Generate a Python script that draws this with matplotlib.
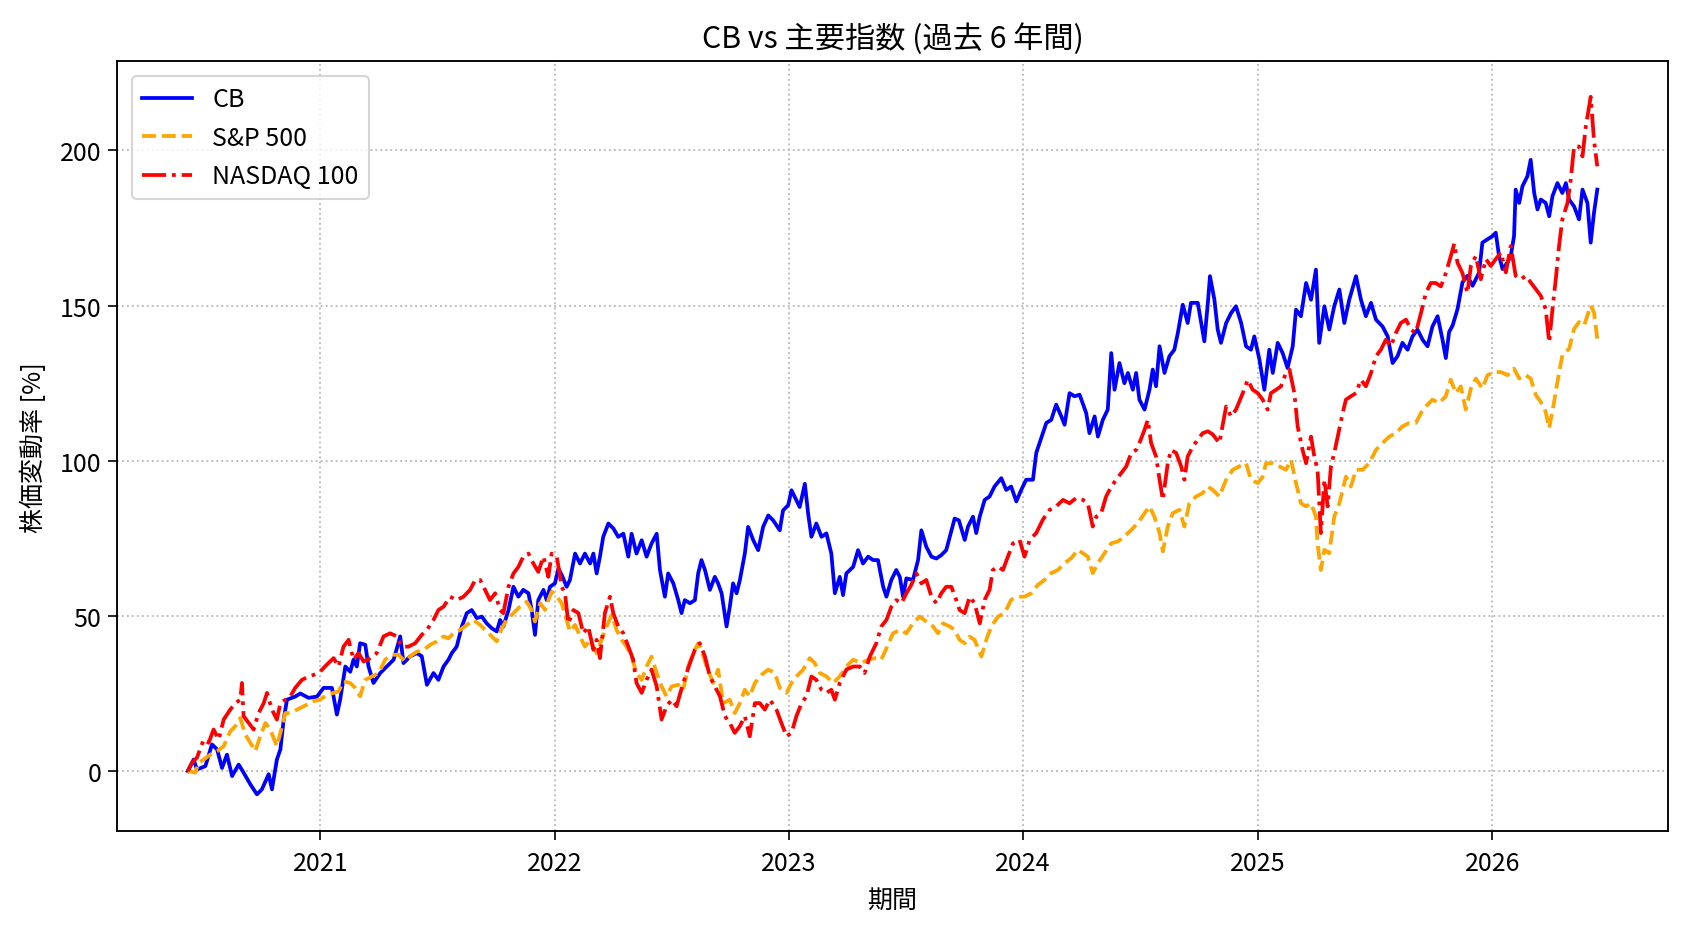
import matplotlib
matplotlib.use('Agg')
import matplotlib.pyplot as plt
import numpy as np
import pandas as pd

plt.rcParams['font.family'] = ['Noto Sans CJK JP', 'DejaVu Sans']
plt.rcParams['font.size'] = 12
plt.rcParams['axes.linewidth'] = 0.9
plt.rcParams['xtick.major.size'] = 4.2
plt.rcParams['ytick.major.size'] = 4.2
plt.rcParams['xtick.major.pad'] = 5

# values; time axis as decimal years
cb_t = [2020.435, 2020.460, 2020.474, 2020.510, 2020.538, 2020.560, 2020.581, 2020.602, 2020.624, 2020.652,
        2020.673, 2020.702, 2020.730, 2020.751, 2020.780, 2020.794, 2020.815, 2020.830, 2020.844, 2020.858,
        2020.893, 2020.915, 2020.950, 2020.986, 2021.014, 2021.050, 2021.071, 2021.085, 2021.107, 2021.128,
        2021.142, 2021.156, 2021.170, 2021.192, 2021.206, 2021.227, 2021.256, 2021.284, 2021.313, 2021.341,
        2021.355, 2021.384, 2021.412, 2021.433, 2021.455, 2021.483, 2021.504, 2021.526, 2021.547, 2021.561,
        2021.582, 2021.604, 2021.625, 2021.646, 2021.668, 2021.689, 2021.710, 2021.732, 2021.753, 2021.767,
        2021.781, 2021.803, 2021.824, 2021.845, 2021.866, 2021.888, 2021.902, 2021.916, 2021.930, 2021.952,
        2021.966, 2021.980, 2022.001, 2022.016, 2022.030, 2022.051, 2022.065, 2022.087, 2022.108, 2022.129,
        2022.151, 2022.165, 2022.179, 2022.193, 2022.207, 2022.229, 2022.250, 2022.271, 2022.293, 2022.314,
        2022.328, 2022.349, 2022.371, 2022.392, 2022.413, 2022.435, 2022.449, 2022.470, 2022.484, 2022.506,
        2022.527, 2022.541, 2022.555, 2022.577, 2022.598, 2022.612, 2022.626, 2022.641, 2022.662, 2022.683,
        2022.697, 2022.712, 2022.733, 2022.747, 2022.761, 2022.776, 2022.790, 2022.811, 2022.825, 2022.847,
        2022.868, 2022.889, 2022.911, 2022.932, 2022.960, 2022.974, 2022.996, 2023.010, 2023.031, 2023.045,
        2023.067, 2023.081, 2023.095, 2023.116, 2023.138, 2023.159, 2023.180, 2023.195, 2023.216, 2023.230,
        2023.244, 2023.273, 2023.294, 2023.315, 2023.337, 2023.358, 2023.379, 2023.401, 2023.415, 2023.436,
        2023.457, 2023.472, 2023.486, 2023.500, 2023.528, 2023.550, 2023.564, 2023.585, 2023.607, 2023.628,
        2023.649, 2023.670, 2023.685, 2023.706, 2023.724, 2023.749, 2023.763, 2023.784, 2023.798, 2023.813,
        2023.834, 2023.855, 2023.876, 2023.905, 2023.926, 2023.947, 2023.969, 2023.990, 2024.011, 2024.040,
        2024.054, 2024.068, 2024.097, 2024.118, 2024.139, 2024.161, 2024.175, 2024.196, 2024.217, 2024.239,
        2024.267, 2024.281, 2024.303, 2024.317, 2024.338, 2024.359, 2024.374, 2024.388, 2024.409, 2024.430,
        2024.445, 2024.466, 2024.480, 2024.494, 2024.516, 2024.537, 2024.551, 2024.565, 2024.580, 2024.601,
        2024.622, 2024.643, 2024.658, 2024.679, 2024.700, 2024.714, 2024.743, 2024.771, 2024.786, 2024.795,
        2024.814, 2024.828, 2024.842, 2024.864, 2024.885, 2024.906, 2024.928, 2024.949, 2024.970, 2024.984,
        2025.006, 2025.027, 2025.048, 2025.063, 2025.084, 2025.105, 2025.126, 2025.148, 2025.162, 2025.183,
        2025.205, 2025.226, 2025.247, 2025.261, 2025.283, 2025.304, 2025.325, 2025.347, 2025.368, 2025.389,
        2025.418, 2025.439, 2025.460, 2025.482, 2025.503, 2025.531, 2025.553, 2025.574, 2025.595, 2025.616,
        2025.638, 2025.659, 2025.680, 2025.702, 2025.723, 2025.744, 2025.766, 2025.787, 2025.801, 2025.815,
        2025.830, 2025.851, 2025.872, 2025.893, 2025.915, 2025.929, 2025.943, 2025.957, 2025.979, 2026.000,
        2026.014, 2026.028, 2026.043, 2026.064, 2026.078, 2026.092, 2026.099, 2026.114, 2026.128, 2026.149,
        2026.163, 2026.178, 2026.192, 2026.206, 2026.227, 2026.242, 2026.256, 2026.277, 2026.298, 2026.313,
        2026.327, 2026.348, 2026.369, 2026.384, 2026.405, 2026.419, 2026.433, 2026.447]
cb_v = [0, 3.7, 0.5, 1.6, 8.6, 7, 1, 5.3, -1.6, 2.1,
        -0.5, -4.3, -7.5, -5.9, -1, -5.9, 3.7, 7, 16.6, 23,
        24, 25, 23.6, 24, 26.8, 26.8, 18.2, 23, 33.7, 32,
        35.9, 33.7, 41.2, 40.7, 33.7, 28.4, 31.6, 33.7, 35.9, 43.4,
        34.8, 37, 38, 37, 27.8, 31.6, 29.4, 33.7, 35.9, 38,
        40.1, 46.6, 50.9, 51.9, 49.3, 49.8, 47.6, 46, 45, 48.7,
        46.6, 51.9, 59.4, 56.2, 58.4, 57.3, 51.9, 43.9, 55.1, 58.4,
        55.1, 59.4, 60.5, 65.3, 63.2, 59.4, 61.6, 70.1, 66.9, 70.1,
        66.9, 70.1, 63.7, 69.1, 75.5, 79.8, 78.2, 75.5, 76.5, 69.1,
        76.5, 70.1, 74.4, 69.1, 73.3, 76.5, 64.8, 56.2, 63.7, 60.5,
        55.1, 50.9, 55.1, 54.1, 55.1, 63.7, 68, 64.8, 58.4, 62.6,
        60.5, 57.3, 46.6, 53, 60.5, 57.3, 61.6, 70.1, 78.7, 74.4,
        71.2, 78.7, 82.4, 80.8, 77.6, 84, 85.7, 90.5, 87.3, 85.1,
        92.6, 83, 75.5, 79.8, 75.5, 76.6, 70.1, 57.3, 62.6, 56.7,
        63.7, 65.8, 71.2, 66.9, 69.1, 68, 68, 59.4, 56.2, 61.6,
        64.8, 62.6, 56.2, 62.1, 61.6, 68, 77.6, 72.3, 69.1, 68.5,
        69.6, 71.2, 75.5, 81.4, 80.8, 74.5, 78.8, 82, 76.7, 82,
        87.4, 88.5, 91.7, 94.4, 90.6, 91.7, 86.9, 90.6, 93.9, 93.9,
        102.5, 105.7, 112.2, 113.2, 118.1, 114.3, 111.6, 121.8, 120.8, 121.3,
        115.4, 108.9, 114.3, 107.8, 113.2, 116.5, 134.7, 122.9, 131.5, 125,
        128.3, 122.9, 128.3, 119.7, 116.5, 122.9, 129.4, 124, 136.9, 128.3,
        133.7, 135.8, 141.2, 150.3, 144.4, 150.9, 150.9, 138.5, 150.9, 159.5,
        151.9, 142.3, 138, 144.4, 147.6, 149.8, 144.4, 136.9, 135.8, 140.1,
        132.6, 122.9, 135.8, 128.3, 138, 134.7, 129.9, 136.9, 148.7, 146.6,
        157.3, 151.9, 161.6, 138, 149.8, 142.3, 149.8, 155.2, 144.4, 151.9,
        159.5, 151.9, 146.6, 150.9, 145.5, 143.3, 140.1, 131.5, 133.7, 138,
        135.8, 140.1, 142.3, 139, 136.9, 143.3, 146.6, 139, 133.1, 141.5,
        143.6, 148.9, 157.5, 159.6, 156.4, 158.5, 160.7, 170.3, 171.4, 172.4,
        173.5, 166, 161.8, 163.9, 166, 172.4, 187.4, 183.1, 188.5, 191.7,
        197, 186.3, 181, 184.2, 183.1, 178.8, 185.3, 189.5, 186.3, 189.5,
        184.2, 182, 177.8, 187.4, 183.1, 170.3, 179.9, 187.4]

sp_t = [2020.435, 2020.467, 2020.482, 2020.503, 2020.531, 2020.560, 2020.588, 2020.616, 2020.638, 2020.659,
        2020.680, 2020.702, 2020.723, 2020.744, 2020.766, 2020.787, 2020.815, 2020.830, 2020.851, 2020.872,
        2020.901, 2020.929, 2020.972, 2021.000, 2021.028, 2021.057, 2021.078, 2021.099, 2021.128, 2021.149,
        2021.170, 2021.192, 2021.220, 2021.249, 2021.277, 2021.305, 2021.334, 2021.362, 2021.384, 2021.412,
        2021.440, 2021.469, 2021.497, 2021.526, 2021.547, 2021.568, 2021.597, 2021.625, 2021.653, 2021.682,
        2021.710, 2021.732, 2021.753, 2021.774, 2021.795, 2021.824, 2021.852, 2021.881, 2021.902, 2021.916,
        2021.938, 2021.959, 2021.973, 2021.987, 2022.009, 2022.030, 2022.051, 2022.065, 2022.087, 2022.108,
        2022.129, 2022.151, 2022.179, 2022.200, 2022.222, 2022.243, 2022.264, 2022.286, 2022.307, 2022.328,
        2022.349, 2022.371, 2022.392, 2022.413, 2022.435, 2022.456, 2022.477, 2022.499, 2022.527, 2022.548,
        2022.570, 2022.591, 2022.612, 2022.626, 2022.648, 2022.676, 2022.697, 2022.719, 2022.747, 2022.768,
        2022.790, 2022.811, 2022.832, 2022.854, 2022.882, 2022.911, 2022.939, 2022.960, 2022.989, 2023.010,
        2023.031, 2023.060, 2023.088, 2023.109, 2023.131, 2023.159, 2023.188, 2023.216, 2023.244, 2023.273,
        2023.308, 2023.337, 2023.365, 2023.393, 2023.422, 2023.443, 2023.472, 2023.500, 2023.528, 2023.557,
        2023.585, 2023.614, 2023.635, 2023.656, 2023.685, 2023.706, 2023.727, 2023.749, 2023.770, 2023.791,
        2023.820, 2023.841, 2023.862, 2023.891, 2023.919, 2023.947, 2023.976, 2024.004, 2024.033, 2024.061,
        2024.089, 2024.118, 2024.146, 2024.175, 2024.203, 2024.232, 2024.253, 2024.274, 2024.295, 2024.317,
        2024.345, 2024.374, 2024.402, 2024.430, 2024.459, 2024.487, 2024.516, 2024.537, 2024.558, 2024.580,
        2024.594, 2024.615, 2024.636, 2024.665, 2024.686, 2024.707, 2024.736, 2024.764, 2024.786, 2024.807,
        2024.835, 2024.864, 2024.892, 2024.920, 2024.949, 2024.970, 2024.999, 2025.020, 2025.034, 2025.063,
        2025.091, 2025.119, 2025.141, 2025.162, 2025.183, 2025.205, 2025.226, 2025.247, 2025.254, 2025.268,
        2025.283, 2025.304, 2025.325, 2025.347, 2025.375, 2025.396, 2025.418, 2025.446, 2025.474, 2025.503,
        2025.531, 2025.560, 2025.588, 2025.616, 2025.645, 2025.673, 2025.695, 2025.716, 2025.744, 2025.773,
        2025.801, 2025.822, 2025.844, 2025.865, 2025.886, 2025.908, 2025.929, 2025.957, 2025.979, 2026.007,
        2026.036, 2026.064, 2026.092, 2026.114, 2026.142, 2026.163, 2026.185, 2026.206, 2026.227, 2026.242,
        2026.263, 2026.277, 2026.298, 2026.327, 2026.348, 2026.369, 2026.391, 2026.419, 2026.433, 2026.447]
sp_v = [0, -0.5, 2.7, 3.7, 5.3, 6.4, 8, 12.8, 14.5, 17.1,
        11.8, 9.1, 6.4, 11.2, 15.5, 13.4, 8, 12.3, 18.7, 18.7,
        19.8, 20.9, 22.5, 23, 24.6, 25.2, 25.7, 28.9, 28.4, 26.8,
        24.1, 29.4, 30.5, 31.6, 35.9, 37.5, 37.5, 35.3, 37, 38.5,
        39, 40.7, 41.8, 43.4, 42.8, 44.4, 45.5, 47.1, 48.7, 47.1,
        45, 43.4, 41.8, 46, 48.7, 50.9, 53, 54.6, 51.9, 48.2,
        54.1, 51.9, 55.1, 57.8, 56.2, 54.1, 48.7, 45, 47.1, 43.4,
        40.1, 42.3, 38, 42.3, 46.6, 50.3, 45.5, 42.3, 40.1, 36.9,
        31.6, 29.4, 33.7, 36.9, 31.6, 27.3, 24.1, 27.3, 27.8, 26.2,
        33.7, 38, 41.2, 39.1, 33.7, 28.4, 32.7, 21.9, 23, 18.7,
        21.9, 26.2, 24.1, 28.4, 31, 32.7, 31.6, 26.8, 25.2, 28.4,
        30.5, 32.7, 36.4, 34.8, 31.6, 30.5, 28.4, 30.5, 33.7, 35.9,
        34.8, 35.9, 36.4, 35.9, 40.7, 44.4, 45.5, 44.4, 47.6, 49.8,
        48.2, 46.6, 44.4, 47.6, 46.6, 45.5, 42.3, 41.2, 43.3, 42.3,
        36.9, 42.3, 46.6, 49.8, 50.9, 55.2, 56.2, 56.2, 57.3, 60,
        61.6, 63.8, 64.8, 67, 68.6, 71.3, 70.2, 69.1, 63.8, 67,
        70.2, 73.4, 74, 75.6, 77.7, 79.9, 83.1, 85.3, 82, 76.7,
        70.8, 78.8, 83.1, 84.2, 78.8, 86.3, 88.5, 89.6, 91.7, 90.6,
        88.5, 93.9, 97.1, 98.2, 99.2, 93.9, 92.8, 94.9, 99.2, 99.2,
        98.2, 97.1, 100.3, 92.8, 86.3, 85.3, 86.3, 82, 73.4, 64.8,
        71.3, 70.2, 82, 86.3, 94.9, 91.7, 97.1, 97.1, 99.2, 103.5,
        105.7, 107.8, 108.9, 111.1, 112.2, 112.2, 115.4, 117.5, 119.7, 118.6,
        120.8, 126.1, 121.8, 124, 116.5, 123.3, 126.5, 123.3, 127.6, 128.6,
        128.6, 127.6, 129.7, 126.5, 127.6, 126.5, 121.2, 119, 115.8, 110.5,
        119, 125.4, 134, 136.1, 142.5, 144.7, 143.6, 150, 147.9, 139.3]

nq_t = [2020.435, 2020.453, 2020.474, 2020.503, 2020.524, 2020.545, 2020.567, 2020.588, 2020.616, 2020.638,
        2020.659, 2020.666, 2020.673, 2020.695, 2020.716, 2020.737, 2020.759, 2020.773, 2020.794, 2020.815,
        2020.830, 2020.851, 2020.872, 2020.893, 2020.922, 2020.950, 2020.972, 2021.000, 2021.028, 2021.057,
        2021.078, 2021.099, 2021.121, 2021.142, 2021.163, 2021.185, 2021.213, 2021.241, 2021.270, 2021.298,
        2021.327, 2021.348, 2021.376, 2021.405, 2021.433, 2021.455, 2021.483, 2021.504, 2021.526, 2021.554,
        2021.582, 2021.611, 2021.639, 2021.661, 2021.682, 2021.703, 2021.724, 2021.746, 2021.767, 2021.781,
        2021.803, 2021.824, 2021.845, 2021.866, 2021.888, 2021.909, 2021.930, 2021.952, 2021.973, 2021.987,
        2022.009, 2022.030, 2022.044, 2022.058, 2022.080, 2022.101, 2022.122, 2022.143, 2022.165, 2022.179,
        2022.193, 2022.214, 2022.236, 2022.250, 2022.271, 2022.293, 2022.314, 2022.335, 2022.349, 2022.371,
        2022.392, 2022.413, 2022.435, 2022.456, 2022.477, 2022.499, 2022.520, 2022.548, 2022.577, 2022.598,
        2022.619, 2022.641, 2022.662, 2022.683, 2022.705, 2022.726, 2022.747, 2022.768, 2022.790, 2022.811,
        2022.832, 2022.854, 2022.875, 2022.896, 2022.918, 2022.946, 2022.967, 2022.989, 2023.010, 2023.031,
        2023.053, 2023.074, 2023.095, 2023.116, 2023.138, 2023.159, 2023.180, 2023.195, 2023.216, 2023.244,
        2023.273, 2023.301, 2023.322, 2023.344, 2023.372, 2023.393, 2023.415, 2023.436, 2023.457, 2023.479,
        2023.500, 2023.521, 2023.543, 2023.564, 2023.585, 2023.607, 2023.628, 2023.649, 2023.670, 2023.692,
        2023.713, 2023.727, 2023.749, 2023.770, 2023.791, 2023.813, 2023.834, 2023.855, 2023.869, 2023.891,
        2023.912, 2023.933, 2023.955, 2023.983, 2024.004, 2024.026, 2024.054, 2024.082, 2024.111, 2024.139,
        2024.168, 2024.196, 2024.224, 2024.253, 2024.274, 2024.295, 2024.310, 2024.331, 2024.352, 2024.374,
        2024.395, 2024.416, 2024.438, 2024.459, 2024.480, 2024.494, 2024.516, 2024.530, 2024.544, 2024.565,
        2024.580, 2024.594, 2024.615, 2024.629, 2024.651, 2024.672, 2024.686, 2024.700, 2024.722, 2024.743,
        2024.764, 2024.786, 2024.807, 2024.835, 2024.864, 2024.885, 2024.906, 2024.935, 2024.956, 2024.977,
        2024.999, 2025.020, 2025.041, 2025.055, 2025.077, 2025.098, 2025.119, 2025.134, 2025.155, 2025.169,
        2025.190, 2025.205, 2025.226, 2025.240, 2025.254, 2025.268, 2025.283, 2025.297, 2025.311, 2025.325,
        2025.340, 2025.361, 2025.375, 2025.396, 2025.418, 2025.439, 2025.460, 2025.482, 2025.503, 2025.524,
        2025.545, 2025.567, 2025.588, 2025.609, 2025.631, 2025.652, 2025.673, 2025.695, 2025.716, 2025.737,
        2025.758, 2025.780, 2025.801, 2025.822, 2025.837, 2025.851, 2025.872, 2025.893, 2025.908, 2025.929,
        2025.950, 2025.972, 2025.993, 2026.014, 2026.036, 2026.057, 2026.078, 2026.099, 2026.121, 2026.142,
        2026.163, 2026.185, 2026.206, 2026.227, 2026.242, 2026.256, 2026.270, 2026.284, 2026.298, 2026.320,
        2026.334, 2026.348, 2026.369, 2026.384, 2026.398, 2026.419, 2026.433, 2026.447]
nq_v = [0, 2.7, 4.3, 10.2, 9.1, 13.4, 10.2, 16.6, 19.8, 21.9,
        23, 28.4, 17.7, 15.5, 13.4, 18.7, 21.9, 25.2, 19.8, 16.6,
        21.9, 23, 24, 26.8, 29.4, 30.5, 31, 32.1, 34.3, 36.4,
        33.7, 40.1, 42.3, 35.9, 38, 35.3, 36.4, 38, 43.4, 44.4,
        43.4, 40.1, 40.1, 41.2, 43.9, 45.5, 48.7, 51.9, 53, 56.2,
        55.1, 56.2, 58.4, 61.6, 61.6, 58.4, 55.1, 57.3, 51.9, 50.9,
        59.4, 63.7, 65.8, 69.1, 70.1, 66.9, 64.2, 69.1, 62.6, 70.1,
        69.1, 59.4, 57.3, 47.6, 51.9, 50.9, 44.4, 46.6, 39.1, 42.3,
        36.4, 50.9, 56.2, 50.9, 46.6, 44.4, 40.1, 35.9, 28.4, 25.2,
        29.4, 32.7, 27.3, 16.6, 20.9, 23, 20.9, 28.4, 34.8, 39.1,
        41.2, 36.9, 30.5, 27.3, 24.1, 17.7, 15.5, 12.3, 14.5, 17.7,
        11.2, 21.9, 21.9, 19.8, 23, 19.8, 15.5, 11.2, 12.3, 17.7,
        21.9, 24.1, 30.5, 29.4, 26.2, 25.2, 26.2, 23, 28.4, 32.7,
        33.7, 33.7, 31.6, 36.9, 41.2, 46.6, 48.7, 53, 55.1, 54.1,
        57.3, 60, 63.7, 60.5, 61.6, 56.2, 54.1, 57.3, 59.4, 59.4,
        55.1, 51.9, 50.9, 56.2, 54.1, 47.6, 55.2, 58.4, 64.8, 65.9,
        64.8, 69.1, 73.4, 74.5, 69.1, 74.5, 76.7, 81, 84.2, 85.3,
        87.4, 86.3, 88, 87.4, 86.3, 78.8, 82, 83.1, 88.5, 91.7,
        93.9, 96, 98.2, 102.5, 103.5, 105.7, 110, 113.2, 105.7, 101.4,
        93.9, 87.4, 99.2, 103.5, 102.5, 98.2, 93.9, 101.4, 104.6, 106.8,
        108.9, 109.5, 108.5, 105.7, 117.5, 114.3, 116.5, 121.8, 126.1, 122.9,
        121.8, 119.7, 116.5, 121.8, 122.9, 124, 128.3, 129.4, 121.8, 111.1,
        103.5, 99.2, 107.8, 101.4, 97.1, 76.7, 93.9, 85.3, 98.2, 102.5,
        107.8, 115.4, 119.7, 120.8, 121.8, 126.1, 124, 128.3, 133.7, 135.8,
        139, 136.9, 141.2, 144.4, 145.5, 142.3, 141.2, 147.6, 154.1, 157.3,
        157.3, 156.2, 160.5, 165.9, 170, 163.8, 160.5, 154.1, 162.8, 166,
        158.5, 165, 162.8, 165, 167.1, 160.7, 169.2, 159.6, 158.5, 159.6,
        157.5, 155.3, 153.2, 148.9, 138.2, 148.9, 158.5, 169.2, 177.8, 183.1,
        190.6, 201.3, 201.3, 198.1, 207.7, 217.3, 203.4, 194.9]


def to_dates(t):
    t = np.asarray(t, dtype=float)
    return pd.Timestamp('2021-01-01') + pd.to_timedelta((t - 2021) * 365.25, unit='D')


fig = plt.figure(figsize=(1688 / 150, 932 / 150), dpi=150)
ax = fig.add_subplot(111)
plt.subplots_adjust(left=0.0695, right=0.988, top=0.933, bottom=0.107)

ax.plot(to_dates(cb_t), cb_v, color='blue', lw=1.8, label='CB')
ax.plot(to_dates(sp_t), sp_v, color='orange', lw=1.8, ls='--', label='S&P 500')
ax.plot(to_dates(nq_t), nq_v, color='red', lw=1.8, ls='-.', label='NASDAQ 100')

ax.set_ylim(-19.4, 228.7)
ax.set_title('CB vs 主要指数 (過去 6 年間)', fontsize=14.5, pad=7)
ax.set_xlabel('期間', labelpad=5)
ax.set_ylabel('株価変動率 [%]', labelpad=6)
ax.grid(True, ls=':', color='#bbbbbb', lw=0.9)
ax.legend(loc='upper left', borderaxespad=0.6)

fig.savefig('out.png', dpi=150)
